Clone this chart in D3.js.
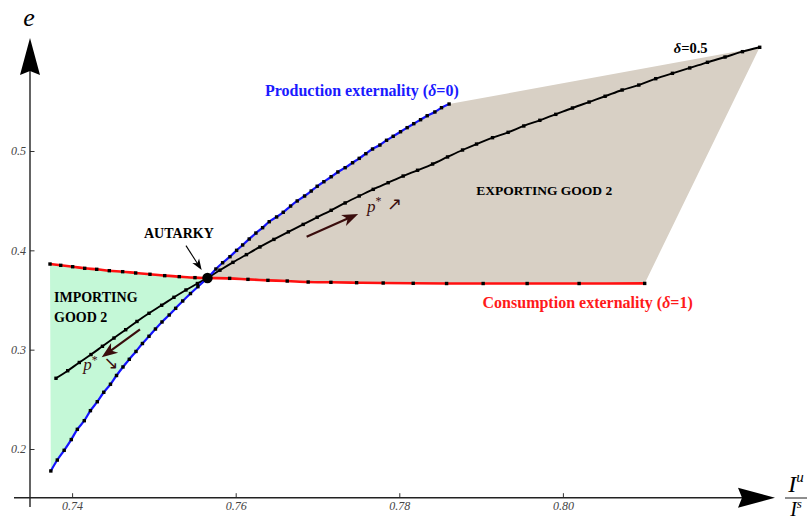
<!DOCTYPE html>
<html><head><meta charset="utf-8">
<script src="https://cdn.jsdelivr.net/npm/d3@7"></script>
<style>
body{margin:0;background:#fff}
svg{display:block}
text{font-family:"Liberation Serif","Times New Roman",serif}
</style>
</head><body>
<svg id="c" width="808" height="520"></svg>
<script>
// ---------------- data (x = I^u/I^s, y = e) ----------------
const autarky = [0.75655, 0.37215];

// Production externality (delta = 0) — blue
const productionCurve = [
  [0.73740,0.1779],[0.73819,0.1889],[0.73903,0.1987],[0.73990,0.2095],[0.74064,0.2198],
  [0.74149,0.2285],[0.74224,0.2386],[0.74308,0.2476],[0.74387,0.2571],[0.74469,0.2652],
  [0.74543,0.2740],[0.74622,0.2826],[0.74699,0.2903],[0.74781,0.2982],[0.74860,0.3062],
  [0.74940,0.3135],[0.75019,0.3208],[0.75099,0.3279],[0.75187,0.3349],[0.75266,0.3416],
  [0.75352,0.3490],[0.75447,0.3565],[0.75538,0.3634],[0.75655,0.37215],
  [0.75758,0.3812],[0.75840,0.3875],[0.75930,0.3936],[0.76011,0.4000],[0.76085,0.4054],
  [0.76165,0.4114],[0.76247,0.4174],[0.76329,0.4228],[0.76410,0.4288],[0.76500,0.4336],
  [0.76581,0.4383],[0.76671,0.4446],[0.76752,0.4497],[0.76842,0.4547],[0.76923,0.4597],
  [0.76996,0.4645],[0.77078,0.4691],[0.77167,0.4741],[0.77249,0.4789],[0.77338,0.4832],
  [0.77429,0.4882],[0.77510,0.4926],[0.77591,0.4973],[0.77673,0.5020],[0.77763,0.5060],
  [0.77844,0.5108],[0.77925,0.5148],[0.78015,0.5194],[0.78096,0.5235],[0.78177,0.5275],
  [0.78260,0.5315],[0.78341,0.5355],[0.78435,0.5393],[0.78516,0.5436],[0.78609,0.5473]
];

// Consumption externality (delta = 1) — red
const consumptionCurve = [
  [0.73730,0.3862],[0.73861,0.3849],[0.74007,0.3835],[0.74154,0.3819],[0.74301,0.3809],
  [0.74455,0.3795],[0.74618,0.3785],[0.74777,0.3772],[0.74952,0.3759],[0.75132,0.3745],
  [0.75310,0.3735],[0.75502,0.3725],[0.75655,0.37215],
  [0.75926,0.3718],[0.76150,0.3708],[0.76394,0.3698],[0.76630,0.3691],[0.76886,0.3681],
  [0.77164,0.3678],[0.77478,0.3674],[0.77803,0.3671],[0.78170,0.3668],[0.78578,0.3666],
  [0.79025,0.3666],[0.79563,0.3666],[0.80198,0.3666],[0.81000,0.3667]
];

// delta = 0.5 — black
const midCurve = [
  [0.73803,0.2712],[0.73946,0.2788],[0.74088,0.2871],[0.74231,0.2951],[0.74371,0.3034],
  [0.74512,0.3117],[0.74655,0.3201],[0.74793,0.3284],[0.74940,0.3366],[0.75095,0.3447],
  [0.75245,0.3527],[0.75392,0.3601],[0.75532,0.3666],[0.75655,0.37215],
  [0.75807,0.3800],[0.75966,0.3879],[0.76131,0.3957],[0.76296,0.4034],[0.76467,0.4110],
  [0.76644,0.4186],[0.76825,0.4261],[0.76996,0.4333],[0.77167,0.4403],[0.77338,0.4477],
  [0.77510,0.4547],[0.77681,0.4614],[0.77864,0.4681],[0.78047,0.4748],[0.78223,0.4806],
  [0.78407,0.4869],[0.78590,0.4940],[0.78773,0.5010],[0.78944,0.5070],[0.79140,0.5134],
  [0.79330,0.5188],[0.79522,0.5252],[0.79718,0.5309],[0.79913,0.5369],[0.80117,0.5433],
  [0.80320,0.5493],[0.80516,0.5551],[0.80724,0.5614],[0.80928,0.5664],[0.81135,0.5728],
  [0.81339,0.5782],[0.81551,0.5836],[0.81767,0.5893],[0.81982,0.5946],[0.82195,0.6000],
  [0.82406,0.6044]
];

const xTickLabels = [0.74, 0.76, 0.78, 0.80];
const yTickLabels = [0.2, 0.3, 0.4, 0.5];
const xMinorTicks = d3.range(147, 165).map(i => i / 200);
const yMinorTicks = d3.range(8, 30).map(i => i / 50);

// annotation anchors (data coordinates)
const exportArrow = [[0.76867,0.4137],[0.77497,0.4366]];
const importArrow = [[0.74830,0.3205],[0.74362,0.2923]];
const autarkyPointer = [[0.75392,0.4047],[0.75584,0.3802]];

// ---------------- drawing ----------------
const svg = d3.select("#c");
const x = d3.scaleLinear().domain([0.74, 0.80]).range([72.1, 562.9]);
const y = d3.scaleLinear().domain([0.2, 0.5]).range([449, 151]);
const AXY = 497.7, AXX = 30;

const iA = 23; // index of autarky in production curve
const cA = 12; // index of autarky in consumption curve

// regions
const poly = d3.line().x(d => x(d[0])).y(d => y(d[1]));
const greenPts = consumptionCurve.slice(0, cA + 1)
  .concat(productionCurve.slice(0, iA + 1).reverse());
svg.append("path").attr("d", poly(greenPts) + "Z").attr("fill", "#c4f8d7");
const beigePts = productionCurve.slice(iA)
  .concat([midCurve[midCurve.length - 1]])
  .concat(consumptionCurve.slice(cA).reverse());
svg.append("path").attr("d", poly(beigePts) + "Z").attr("fill", "#d8d0c5");

// curves
const line = d3.line().x(d => x(d[0])).y(d => y(d[1])).curve(d3.curveCatmullRom.alpha(0.5));
function curve(data, color, w) {
  svg.append("path").attr("d", line(data)).attr("fill", "none")
    .attr("stroke", color).attr("stroke-width", w).attr("stroke-linejoin", "round");
}
curve(consumptionCurve, "#ff1010", 2.6);
curve(midCurve, "#000", 1.9);
curve(productionCurve, "#1414ff", 2.2);

function markers(data) {
  svg.append("g").selectAll("rect").data(data).join("rect")
    .attr("x", d => x(d[0]) - 1.7).attr("y", d => y(d[1]) - 1.7)
    .attr("width", 3.4).attr("height", 3.4).attr("fill", "#000");
}
markers(consumptionCurve);
markers(midCurve);
markers(productionCurve);

svg.append("circle").attr("cx", x(autarky[0])).attr("cy", y(autarky[1]))
  .attr("r", 5.2).attr("fill", "#000");

// arrows
function arrow(pts, color, sw, hl, hw) {
  const x0 = x(pts[0][0]), y0 = y(pts[0][1]), x1 = x(pts[1][0]), y1 = y(pts[1][1]);
  const dx = x1 - x0, dy = y1 - y0, L = Math.hypot(dx, dy), ux = dx / L, uy = dy / L;
  const bx = x1 - ux * hl, by = y1 - uy * hl;
  svg.append("line").attr("x1", x0).attr("y1", y0)
    .attr("x2", x1 - ux * hl * 0.6).attr("y2", y1 - uy * hl * 0.6)
    .attr("stroke", color).attr("stroke-width", sw);
  const nx = -uy, ny = ux;
  const ix = x1 - ux * hl * 0.72, iy = y1 - uy * hl * 0.72;
  svg.append("path").attr("d",
    `M${x1},${y1}L${bx + nx * hw / 2},${by + ny * hw / 2}L${ix},${iy}L${bx - nx * hw / 2},${by - ny * hw / 2}Z`)
    .attr("fill", color);
}
arrow(exportArrow, "#3a0d0d", 2.2, 16, 12);
arrow(importArrow, "#3a0d0d", 2.2, 16, 12);
arrow(autarkyPointer, "#000", 1.1, 11, 8);

// text labels
function label(pos, str, opts) {
  const t = svg.append("text").attr("x", x(pos[0])).attr("y", y(pos[1]))
    .attr("font-size", opts.size).attr("font-weight", opts.weight || "bold")
    .attr("fill", opts.color || "#000");
  str.forEach(s => {
    const ts = t.append("tspan").text(s.t);
    if (s.i) ts.attr("font-style", "italic");
    if (s.sup) ts.attr("dy", -opts.size * 0.38).attr("font-size", opts.size * 0.7);
    if (s.down) ts.attr("dy", opts.size * 0.3).attr("font-family", "DejaVu Sans, sans-serif")
      .attr("font-size", opts.size * 1.05);
  });
  return t;
}
label([0.76357, 0.5554], [{t:"Production externality ("},{t:"δ",i:1},{t:"=0)"}], {size:16, color:"#1a1aff"});
label([0.79018, 0.3419], [{t:"Consumption externality ("},{t:"δ",i:1},{t:"=1)"}], {size:16, color:"#ff1a1a"});
label([0.81355, 0.5987], [{t:"δ",i:1},{t:"=0.5"}], {size:14.5});
label([0.74879, 0.4121], [{t:"AUTARKY"}], {size:14});
label([0.78940, 0.4557], [{t:"EXPORTING GOOD 2"}], {size:13.5});
label([0.73779, 0.3480], [{t:"IMPORTING"}], {size:14});
label([0.73779, 0.3282], [{t:"GOOD 2"}], {size:14});
label([0.77604, 0.4389], [{t:"p",i:1},{t:"*",sup:1},{t:" ↗",down:1}], {size:17, weight:"normal", color:"#3a0d0d"});
label([0.74137, 0.2795], [{t:"p",i:1},{t:"*",sup:1},{t:" ↘",down:1}], {size:17, weight:"normal", color:"#3a0d0d"});

// axes
const gx = svg.append("g").attr("transform", `translate(0,${AXY})`);
gx.call(d3.axisBottom(x).tickValues(xMinorTicks).tickSizeInner(-2.5).tickSizeOuter(0).tickFormat(""));
gx.call(d3.axisBottom(x).tickValues(xTickLabels).tickSizeInner(-4.5).tickSizeOuter(0).tickPadding(4).tickFormat(d3.format(".2f")));
gx.selectAll(".domain").remove();
const gy = svg.append("g").attr("transform", `translate(${AXX},0)`);
gy.call(d3.axisLeft(y).tickValues(yMinorTicks).tickSizeInner(-2.5).tickSizeOuter(0).tickFormat(""));
gy.call(d3.axisLeft(y).tickValues(yTickLabels).tickSizeInner(-4.5).tickSizeOuter(0).tickPadding(4).tickFormat(d3.format(".1f")));
gy.selectAll(".domain").remove();
svg.selectAll(".tick line").attr("stroke", "#333").attr("stroke-width", 1);
svg.selectAll(".tick text").attr("font-family", "Liberation Serif, serif")
  .attr("font-style", "italic").attr("font-size", 12).attr("fill", "#444");

svg.append("line").attr("x1", 14).attr("x2", 750).attr("y1", AXY).attr("y2", AXY)
  .attr("stroke", "#222").attr("stroke-width", 1.4);
svg.append("line").attr("x1", AXX).attr("x2", AXX).attr("y1", 60).attr("y2", 507)
  .attr("stroke", "#222").attr("stroke-width", 1.4);
// arrowheads
svg.append("path").attr("d", `M${AXX},38L${AXX + 10},75L${AXX},71L${AXX - 10},75Z`).attr("fill", "#000");
svg.append("path").attr("d", `M775,${AXY}L738,${AXY - 10}L742,${AXY}L738,${AXY + 10}Z`).attr("fill", "#000");

// axis titles
svg.append("text").attr("x", AXX - 1).attr("y", 26).attr("text-anchor", "middle")
  .attr("font-size", 26).attr("font-style", "italic").text("e");
const fx = 796;
const num = svg.append("text").attr("x", fx).attr("y", 492).attr("text-anchor", "middle")
  .attr("font-size", 24).attr("font-style", "italic");
num.append("tspan").text("I");
num.append("tspan").attr("font-size", 15).attr("dy", -10).text("u");
svg.append("line").attr("x1", 785).attr("x2", 807).attr("y1", 498).attr("y2", 498)
  .attr("stroke", "#444").attr("stroke-width", 1.2);
const den = svg.append("text").attr("x", fx).attr("y", 516).attr("text-anchor", "middle")
  .attr("font-size", 20).attr("font-style", "italic");
den.append("tspan").text("I");
den.append("tspan").attr("font-size", 13).attr("dy", -8).text("s");
</script>
</body></html>
